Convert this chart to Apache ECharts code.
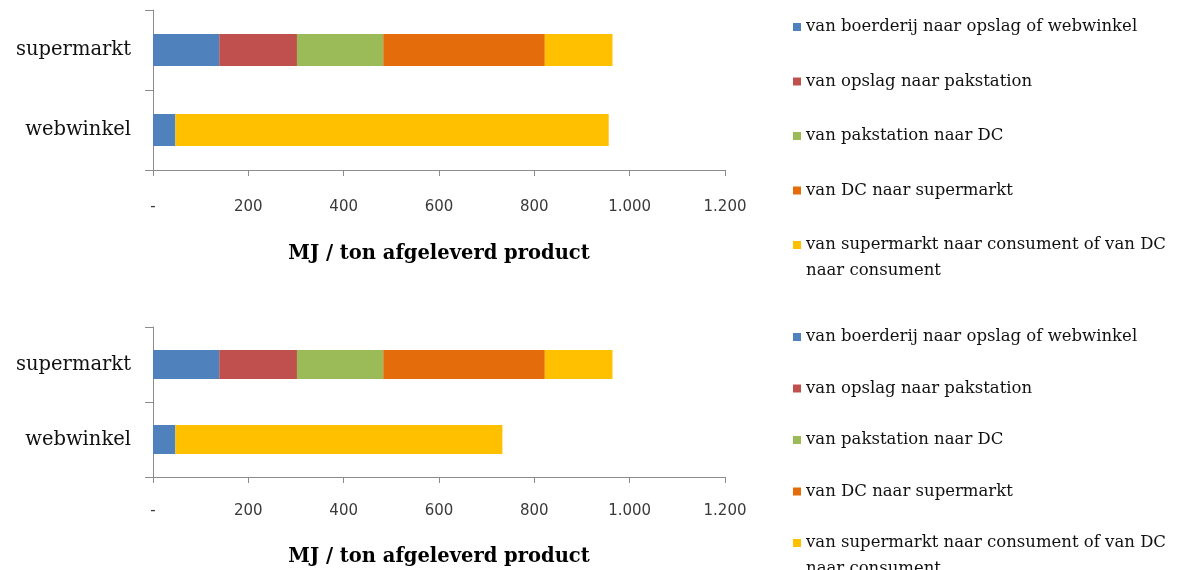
<!DOCTYPE html>
<html>
<head>
<meta charset="utf-8">
<script src="https://cdn.jsdelivr.net/npm/echarts@6/dist/echarts.min.js"></script>
<style>
  html, body { margin: 0; padding: 0; background: #fff; }
  #wrap { position: relative; width: 1178px; height: 570px; overflow: hidden; }
  #chartTop { position: absolute; left: 0; top: 0; width: 1178px; height: 275px; }
  #chartBottom { position: absolute; left: 0; top: 287px; width: 1178px; height: 283px; }
</style>
</head>
<body>
<div id="wrap">
  <div id="chartTop"></div>
  <div id="chartBottom"></div>
</div>
<script>
// Energy use per transport stage, MJ per ton of delivered product
const categories = ['supermarkt', 'webwinkel'];
const stageNames = [
  'van boerderij naar opslag of webwinkel',
  'van opslag naar pakstation',
  'van pakstation naar DC',
  'van DC naar supermarkt',
  'van supermarkt naar consument of van DC\nnaar consument'
];
const stageColors = ['#4F81BD', '#C0504D', '#9BBB59', '#E46C0A', '#FFC000'];

// upper chart
const boerderijTop   = [139, 47];
const opslagTop      = [163, 0];
const pakstationTop  = [181, 0];
const dcTop          = [339, 0];
const consumentTop   = [142, 909];

// lower chart
const boerderijBottom  = [139, 47];
const opslagBottom     = [163, 0];
const pakstationBottom = [181, 0];
const dcBottom         = [339, 0];
const consumentBottom  = [142, 686];

const axisMin = 0, axisMax = 1200, axisStep = 200;
const axisTitle = 'MJ / ton afgeleverd product';

const serif = '"DejaVu Serif", "Liberation Serif", serif';
const legendLine = 26;

function nlNumber(v) {
  if (v === 0) return '-';
  return String(v).replace(/\B(?=(\d{3})+(?!\d))/g, '.');
}

function buildOption(seriesValues, layout) {
  const lastName = stageNames[stageNames.length - 1];
  // every legend entry gets the same box height, so the two-line entry
  // keeps its icon beside the first line
  const legendData = stageNames.map(function (name) {
    return name === lastName
      ? { name: name }
      : { name: name, textStyle: { padding: [legendLine, 0, legendLine, 0] } };
  });
  return {
    animation: false,
    backgroundColor: '#ffffff',
    color: stageColors,
    grid: {
      left: 153, width: 572, top: layout.gridTop, height: layout.gridHeight,
      outerBoundsMode: 'none', containLabel: false
    },
    legend: {
      orient: 'vertical',
      left: 793,
      top: layout.legendTop,
      height: 1000,
      padding: 0,
      itemWidth: 8,
      itemHeight: 8,
      itemGap: layout.legendGap,
      icon: 'rect',
      selectedMode: false,
      data: legendData,
      formatter: function (name) { return name === lastName ? '\n' + name : name; },
      textStyle: { fontFamily: serif, fontSize: 16.5, lineHeight: legendLine, color: '#111' }
    },
    xAxis: {
      type: 'value',
      min: axisMin,
      max: axisMax,
      interval: axisStep,
      splitLine: { show: false },
      axisLine: { show: true, lineStyle: { color: '#8c8c8c', width: 1 } },
      axisTick: { show: true, length: 6, lineStyle: { color: '#8c8c8c' } },
      axisLabel: {
        margin: layout.labelMargin,
        fontFamily: '"DejaVu Sans", sans-serif',
        fontSize: 15,
        color: '#3a3a3a',
        formatter: nlNumber
      },
      name: axisTitle,
      nameLocation: 'middle',
      nameGap: layout.nameGap,
      nameTextStyle: { fontFamily: '"DejaVu Serif", serif', fontWeight: 'bold', fontSize: 19.5, color: '#000' }
    },
    yAxis: {
      type: 'category',
      data: categories,
      inverse: true,
      axisLine: { show: true, lineStyle: { color: '#8c8c8c', width: 1 } },
      axisTick: { show: true, length: 8, lineStyle: { color: '#8c8c8c' } },
      axisLabel: { margin: 22, fontFamily: serif, fontSize: 19.5, color: '#111' }
    },
    series: seriesValues.map(function (vals, i) {
      return {
        name: stageNames[i],
        type: 'bar',
        stack: 'total',
        barWidth: layout.barWidth,
        data: vals,
        itemStyle: { color: stageColors[i] }
      };
    })
  };
}

const topChart = echarts.init(document.getElementById('chartTop'), null, { renderer: 'canvas' });
topChart.setOption(buildOption(
  [boerderijTop, opslagTop, pakstationTop, dcTop, consumentTop],
  { gridTop: 10, gridHeight: 160, legendTop: -12, legendGap: -23.5, labelMargin: 30, nameGap: 74, barWidth: 32 }
));

const bottomChart = echarts.init(document.getElementById('chartBottom'), null, { renderer: 'canvas' });
bottomChart.setOption(buildOption(
  [boerderijBottom, opslagBottom, pakstationBottom, dcBottom, consumentBottom],
  { gridTop: 40, gridHeight: 150, legendTop: 11, legendGap: -26.5, labelMargin: 27, nameGap: 70, barWidth: 29 }
));
</script>
</body>
</html>
